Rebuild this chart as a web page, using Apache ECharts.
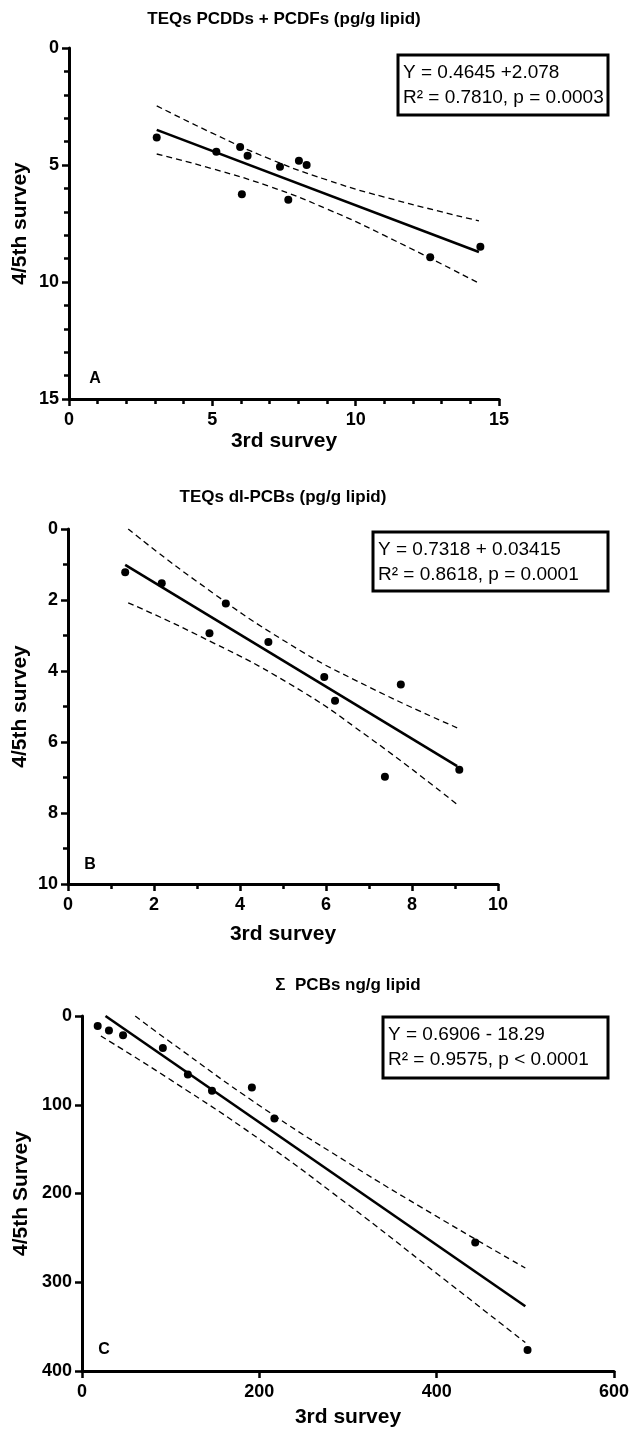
<!DOCTYPE html>
<html>
<head>
<meta charset="utf-8">
<script src="https://cdn.jsdelivr.net/npm/echarts@6/dist/echarts.min.js"></script>
<style>
html, body { margin: 0; padding: 0; background: #fff; }
#main { width: 632px; height: 1431px; }
</style>
</head>
<body>
<div id="main"></div>
<script>
// A: TEQs PCDDs + PCDFs (pg/g lipid)
var dioxin3rd = [3.06, 5.14, 5.97, 6.23, 7.36, 8.02, 8.29, 6.03, 7.65, 12.6, 14.35];
var dioxin45 = [3.82, 4.43, 4.23, 4.60, 5.07, 4.82, 5.00, 6.25, 6.48, 8.94, 8.49];
var dioxinFitX = [3.06, 14.3];
var dioxinFitY = [3.50, 8.72];
var dioxinBandX = [3.06, 5, 7, 9, 11, 14.3];
var dioxinBandUpper = [2.47, 3.64, 4.74, 5.64, 6.37, 7.39];
var dioxinBandLower = [4.53, 5.16, 5.92, 6.88, 8.01, 10.05];

// B: TEQs dl-PCBs (pg/g lipid)
var dlpcb3rd = [1.33, 2.18, 3.67, 3.29, 4.66, 5.96, 6.21, 7.74, 7.37, 9.10];
var dlpcb45 = [1.22, 1.53, 2.10, 2.94, 3.18, 4.17, 4.84, 4.38, 6.98, 6.78];
var dlpcbFitX = [1.33, 9.05];
var dlpcbFitY = [1.01, 6.68];
var dlpcbBandX = [1.4, 3, 5.15, 7, 9.05];
var dlpcbBandUpper = [0.0, 1.48, 3.24, 4.45, 5.60];
var dlpcbBandLower = [2.08, 2.98, 4.36, 5.87, 7.76];

// C: sum PCBs ng/g lipid
var pcb3rd = [17.7, 30.4, 46.3, 91.2, 119.4, 146.6, 191.6, 217, 443.5, 502.5];
var pcb45 = [11.3, 16.2, 21.8, 36.1, 65.8, 84.2, 80.5, 115.4, 255.1, 376.4];
var pcbFitX = [26.5, 500];
var pcbFitY = [0, 327];
var pcbUpperX = [60, 100, 200, 300, 400, 500];
var pcbUpperY = [0, 29.6, 100.8, 165.3, 225.8, 284];
var pcbLowerX = [21.3, 100, 200, 300, 400, 500];
var pcbLowerY = [22.6, 72.0, 138.8, 212.5, 290.0, 368];

var boldFont = "'Liberation Sans', Arial, sans-serif";
var plainFont = "'Liberation Sans', Arial, sans-serif";

function zip(xs, ys) {
    var res = [];
    for (var i = 0; i < xs.length; i++) {
        res.push([xs[i], ys[i]]);
    }
    return res;
}

function makeX(grid, max, interval, minorSplit, gap) {
    return {
        type: 'value', gridIndex: grid, min: 0, max: max, interval: interval,
        position: 'bottom',
        name: '3rd survey', nameLocation: 'middle', nameGap: gap, nameMoveOverlap: false,
        nameTextStyle: { fontFamily: boldFont, fontWeight: 'bold', fontSize: 21, color: '#000' },
        axisLine: { onZero: false, lineStyle: { color: '#000', width: 3 } },
        axisTick: { length: 7, lineStyle: { width: 2.5, color: '#000' } },
        minorTick: { show: minorSplit > 1, splitNumber: minorSplit, length: 5, lineStyle: { width: 2.5, color: '#000' } },
        axisLabel: { fontFamily: boldFont, fontWeight: 'bold', fontSize: 18, color: '#000', margin: 12 },
        splitLine: { show: false }
    };
}

function makeY(grid, max, interval, minorSplit, name, gap) {
    return {
        type: 'value', gridIndex: grid, min: 0, max: max, interval: interval,
        inverse: true, position: 'left',
        name: name, nameLocation: 'middle', nameGap: gap, nameRotate: 90, nameMoveOverlap: false,
        nameTextStyle: { fontFamily: boldFont, fontWeight: 'bold', fontSize: 21, color: '#000' },
        axisLine: { onZero: false, lineStyle: { color: '#000', width: 3 } },
        axisTick: { length: 7, lineStyle: { width: 2.5, color: '#000' } },
        minorTick: { show: minorSplit > 1, splitNumber: minorSplit, length: 5, lineStyle: { width: 2.5, color: '#000' } },
        axisLabel: { fontFamily: boldFont, fontWeight: 'bold', fontSize: 18, color: '#000', margin: 10 },
        splitLine: { show: false }
    };
}

function dots(grid, xs, ys) {
    return {
        type: 'scatter', xAxisIndex: grid, yAxisIndex: grid,
        data: zip(xs, ys), symbolSize: 8,
        itemStyle: { color: '#000', opacity: 1 }, z: 5
    };
}

function fit(grid, xs, ys) {
    return {
        type: 'line', xAxisIndex: grid, yAxisIndex: grid,
        data: zip(xs, ys), symbol: 'none',
        lineStyle: { color: '#000', width: 2.6 }
    };
}

function band(grid, xs, ys) {
    return {
        type: 'line', xAxisIndex: grid, yAxisIndex: grid,
        data: zip(xs, ys), symbol: 'none', smooth: true,
        lineStyle: { color: '#000', width: 1.3, type: [6, 4] }
    };
}

function heading(x, y, text) {
    return {
        type: 'text', x: x, y: y,
        style: { text: text, align: 'center', verticalAlign: 'middle', fill: '#000',
                 font: 'bold 17px ' + boldFont }
    };
}

function letter(x, y, text) {
    return {
        type: 'text', x: x, y: y,
        style: { text: text, align: 'center', verticalAlign: 'middle', fill: '#000',
                 font: 'bold 16px ' + boldFont }
    };
}

function eqBox(x, y, w, h, text) {
    return [
        { type: 'rect', shape: { x: x, y: y, width: w, height: h },
          style: { fill: '#fff', stroke: '#000', lineWidth: 3 }, z: 10 },
        { type: 'text', x: x + 5, y: y + 5,
          style: { text: text, fill: '#000', font: '19px ' + plainFont, lineHeight: 25 }, z: 11 }
    ];
}

var chart = echarts.init(document.getElementById('main'));

var option = {
    animation: false,
    backgroundColor: '#fff',
    grid: [
        { left: 69, top: 48, width: 430, height: 351 },
        { left: 68, top: 529, width: 430, height: 355 },
        { left: 82, top: 1016, width: 533, height: 355 }
    ],
    xAxis: [
        makeX(0, 15, 5, 5, 32),
        makeX(1, 10, 2, 2, 40),
        makeX(2, 600, 200, 1, 36)
    ],
    yAxis: [
        makeY(0, 15, 5, 5, '4/5th survey', 38),
        makeY(1, 10, 2, 2, '4/5th survey', 37),
        makeY(2, 400, 100, 1, '4/5th Survey', 50)
    ],
    graphic: [
        heading(284, 19, 'TEQs PCDDs + PCDFs (pg/g lipid)'),
        heading(283, 497, 'TEQs dl-PCBs (pg/g lipid)'),
        heading(348, 985, '\u03a3  PCBs ng/g lipid'),
        letter(95, 379, 'A'),
        letter(90, 865, 'B'),
        letter(104, 1350, 'C')
    ].concat(
        eqBox(398, 55, 210, 60, 'Y = 0.4645 +2.078\nR\u00b2 = 0.7810, p = 0.0003'),
        eqBox(373, 532, 235, 59, 'Y = 0.7318 + 0.03415\nR\u00b2 = 0.8618, p = 0.0001'),
        eqBox(383, 1017, 225, 61, 'Y = 0.6906 - 18.29\nR\u00b2 = 0.9575, p < 0.0001')
    ),
    series: [
        band(0, dioxinBandX, dioxinBandUpper),
        band(0, dioxinBandX, dioxinBandLower),
        fit(0, dioxinFitX, dioxinFitY),
        dots(0, dioxin3rd, dioxin45),

        band(1, dlpcbBandX, dlpcbBandUpper),
        band(1, dlpcbBandX, dlpcbBandLower),
        fit(1, dlpcbFitX, dlpcbFitY),
        dots(1, dlpcb3rd, dlpcb45),

        band(2, pcbUpperX, pcbUpperY),
        band(2, pcbLowerX, pcbLowerY),
        fit(2, pcbFitX, pcbFitY),
        dots(2, pcb3rd, pcb45)
    ]
};

chart.setOption(option);
</script>
</body>
</html>
